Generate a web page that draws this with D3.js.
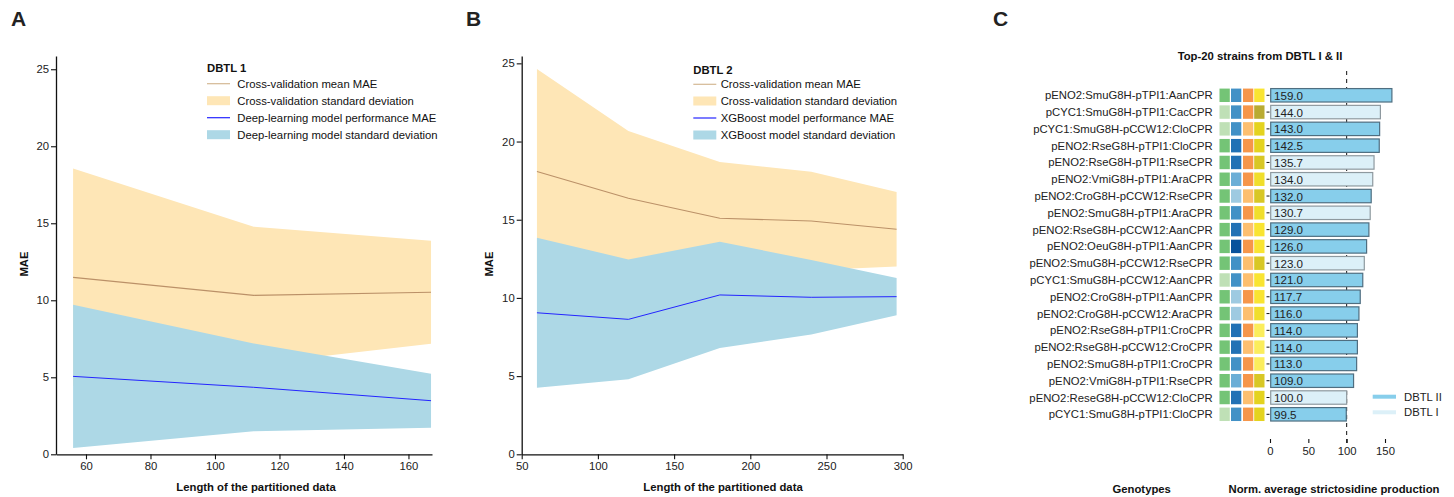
<!DOCTYPE html>
<html>
<head>
<meta charset="utf-8">
<script src="https://cdn.jsdelivr.net/npm/d3@7"></script>
<style>
  html, body { margin: 0; padding: 0; background: #fff; }
  svg { display: block; font-family: "Liberation Sans", Arial, sans-serif; }
  .tick text { font-size: 11.3px; fill: #222; }
</style>
</head>
<body>
<svg id="chart" width="1454" height="497"></svg>
<script>
// ---------------- DATA ----------------
// Panel A (DBTL 1)
const aX = [56, 112, 167];
const aCvMean = [11.49, 10.32, 10.52];
const aCvStd = [7.06, 4.46, 3.35];
const aDlMean = [5.06, 4.35, 3.48];
const aDlStd = [4.65, 2.85, 1.75];
const aXTicks = [60, 80, 100, 120, 140, 160];
const aYTicks = [0, 5, 10, 15, 20, 25];

// Panel B (DBTL 2)
const bX = [60, 120, 180, 240, 296];
const bCvMean = [18.09, 16.37, 15.09, 14.92, 14.39];
const bCvStd = [6.55, 4.30, 3.60, 3.15, 2.38];
const bXgMean = [9.05, 8.63, 10.19, 10.04, 10.08];
const bXgStd = [4.80, 3.83, 3.40, 2.38, 1.19];
const bXTicks = [50, 100, 150, 200, 250, 300];
const bYTicks = [0, 5, 10, 15, 20, 25];

// Panel C (Top-20 strains)
const strains = [
  "pENO2:SmuG8H-pTPI1:AanCPR", "pCYC1:SmuG8H-pTPI1:CacCPR", "pCYC1:SmuG8H-pCCW12:CloCPR",
  "pENO2:RseG8H-pTPI1:CloCPR", "pENO2:RseG8H-pTPI1:RseCPR", "pENO2:VmiG8H-pTPI1:AraCPR",
  "pENO2:CroG8H-pCCW12:RseCPR", "pENO2:SmuG8H-pTPI1:AraCPR", "pENO2:RseG8H-pCCW12:AanCPR",
  "pENO2:OeuG8H-pTPI1:AanCPR", "pENO2:SmuG8H-pCCW12:RseCPR", "pCYC1:SmuG8H-pCCW12:AanCPR",
  "pENO2:CroG8H-pTPI1:AanCPR", "pENO2:CroG8H-pCCW12:AraCPR", "pENO2:RseG8H-pTPI1:CroCPR",
  "pENO2:RseG8H-pCCW12:CroCPR", "pENO2:SmuG8H-pTPI1:CroCPR", "pENO2:VmiG8H-pTPI1:RseCPR",
  "pENO2:ReseG8H-pCCW12:CloCPR", "pCYC1:SmuG8H-pTPI1:CloCPR"
];
const production = [159.0, 144.0, 143.0, 142.5, 135.7, 134.0, 132.0, 130.7, 129.0, 126.0,
                    123.0, 121.0, 117.7, 116.0, 114.0, 114.0, 113.0, 109.0, 100.0, 99.5];
const cycle = ["II", "I", "II", "II", "I", "I", "II", "I", "II", "II",
               "I", "II", "II", "II", "II", "II", "II", "II", "I", "II"];
const cXTicks = [0, 50, 100, 150];

// ---------------- STYLE ----------------
const FS = "11.3px";
const cvFill = "#fee6b6", cvLine = "#bb9168", cvLegLine = "#d4b894";
const mlFill = "#add8e6", mlLine = "#2424ff";
const promoterColor = { pENO2: "#74c476", pCYC1: "#bfe0b6" };
const g8hColor = { Smu: "#4291c6", Rse: "#2171b5", Rese: "#2171b5", Vmi: "#6baed6", Cro: "#9ecae1", Oeu: "#08519c" };
const cprPromColor = { pTPI1: "#f6964a", pCCW12: "#fdbf6f" };
const cprColor = { Aan: "#f9e432", Cac: "#b9ab32", Clo: "#e4d31f", Rse: "#d8c725", Ara: "#f0de2c", Cro: "#fbed5c" };

const svg = d3.select("#chart");

function panelLetter(t, x) {
  svg.append("text").attr("x", x).attr("y", 26).text(t)
    .style("font-size", "21px").style("font-weight", "bold").attr("fill", "#222");
}

function linePanel(cfg) {
  const x = d3.scaleLinear().domain(cfg.xDomain).range(cfg.xRange);
  const y = d3.scaleLinear().domain(cfg.yDomain).range([454.3, 56]);
  const g = svg.append("g");
  const idx = d3.range(cfg.xs.length);
  const area = (m, s) => d3.area().x(i => x(cfg.xs[i])).y0(i => y(m[i] - s[i])).y1(i => y(m[i] + s[i]));
  const line = m => d3.line().x(i => x(cfg.xs[i])).y(i => y(m[i]));
  g.append("path").attr("d", area(cfg.cvMean, cfg.cvStd)(idx)).attr("fill", cvFill);
  g.append("path").attr("d", area(cfg.mlMean, cfg.mlStd)(idx)).attr("fill", mlFill);
  g.append("path").attr("d", line(cfg.cvMean)(idx)).attr("fill", "none").attr("stroke", cvLine).attr("stroke-width", 1.1);
  g.append("path").attr("d", line(cfg.mlMean)(idx)).attr("fill", "none").attr("stroke", mlLine).attr("stroke-width", 1);

  const ya = g.append("g").attr("transform", `translate(${cfg.xRange[0]},0)`)
    .call(d3.axisLeft(y).tickValues(cfg.yTicks).tickSize(5).tickPadding(2).tickSizeOuter(0));
  const xa = g.append("g").attr("transform", `translate(0,454.3)`)
    .call(d3.axisBottom(x).tickValues(cfg.xTicks).tickSize(5).tickPadding(3).tickSizeOuter(0));
  [ya, xa].forEach(a => {
    a.select(".domain").attr("stroke", "#111").attr("stroke-width", 1.3);
    a.selectAll(".tick line").attr("stroke", "#111").attr("stroke-width", 1.1);
  });

  g.append("text").attr("transform", `translate(${cfg.yLabelX},264) rotate(-90)`)
    .attr("text-anchor", "middle").attr("dominant-baseline", "central")
    .style("font-size", FS).style("font-weight", "bold").attr("fill", "#111").text("MAE");
  g.append("text").attr("x", cfg.xLabelX).attr("y", 491).attr("text-anchor", "middle")
    .style("font-size", FS).style("font-weight", "bold").attr("fill", "#111")
    .text("Length of the partitioned data");

  // legend
  const L = cfg.legend;
  g.append("text").attr("x", L.x).attr("y", L.titleY).attr("dominant-baseline", "central")
    .style("font-size", FS).style("font-weight", "bold").attr("fill", "#111").text(L.title);
  L.items.forEach((it, i) => {
    const cy = L.rowsY[i];
    if (it.type === "line") {
      g.append("line").attr("x1", L.x).attr("x2", L.x + 23).attr("y1", cy).attr("y2", cy)
        .attr("stroke", it.color).attr("stroke-width", 1.2);
    } else {
      g.append("rect").attr("x", L.x).attr("y", cy - 4.5).attr("width", 23).attr("height", 9).attr("fill", it.color);
    }
    g.append("text").attr("x", L.textX).attr("y", cy).attr("dominant-baseline", "central")
      .style("font-size", FS).attr("fill", "#111").text(it.label);
  });
}

panelLetter("A", 11);
linePanel({
  xs: aX, cvMean: aCvMean, cvStd: aCvStd, mlMean: aDlMean, mlStd: aDlStd,
  xDomain: [50.7, 167.3], xRange: [56, 432], yDomain: [0, 25.86],
  xTicks: aXTicks, yTicks: aYTicks, yLabelX: 24, xLabelX: 256,
  legend: {
    x: 207, textX: 237.3, title: "DBTL 1", titleY: 68, rowsY: [83.7, 100.7, 117.7, 134.7],
    items: [
      { type: "line", color: cvLegLine, label: "Cross-validation mean MAE" },
      { type: "rect", color: cvFill, label: "Cross-validation standard deviation" },
      { type: "line", color: mlLine, label: "Deep-learning model performance MAE" },
      { type: "rect", color: mlFill, label: "Deep-learning model standard deviation" }
    ]
  }
});

panelLetter("B", 466);
linePanel({
  xs: bX, cvMean: bCvMean, cvStd: bCvStd, mlMean: bXgMean, mlStd: bXgStd,
  xDomain: [50, 300], xRange: [521.7, 902.7], yDomain: [0, 25.47],
  xTicks: bXTicks, yTicks: bYTicks, yLabelX: 489, xLabelX: 723,
  legend: {
    x: 693.3, textX: 720.7, title: "DBTL 2", titleY: 70, rowsY: [84.3, 101, 118, 135],
    items: [
      { type: "line", color: cvLegLine, label: "Cross-validation mean MAE" },
      { type: "rect", color: cvFill, label: "Cross-validation standard deviation" },
      { type: "line", color: mlLine, label: "XGBoost model performance MAE" },
      { type: "rect", color: mlFill, label: "XGBoost model standard deviation" }
    ]
  }
});

// ---------------- PANEL C ----------------
panelLetter("C", 993);
(function () {
  const g = svg.append("g");
  const x = d3.scaleLinear().domain([0, 150]).range([1270, 1385]);
  const y = d3.scaleBand().domain(strains).range([86.9, 422.7]).paddingInner(0.2).paddingOuter(0.1);
  const bw = y.bandwidth();

  g.append("text").attr("x", 1260).attr("y", 60).attr("text-anchor", "middle")
    .style("font-size", FS).style("font-weight", "bold").attr("fill", "#111")
    .text("Top-20 strains from DBTL I & II");

  // genotype labels
  g.selectAll("text.lab").data(strains).join("text").attr("class", "lab")
    .attr("x", 1212.7).attr("y", d => y(d) + bw / 2).attr("text-anchor", "end")
    .attr("dominant-baseline", "central").style("font-size", FS).attr("fill", "#222").text(d => d);

  // genotype squares
  const parts = strains.map(s => {
    const m = s.match(/^(p\w+?):(\w+?)G8H-(p\w+?):(\w+?)CPR$/);
    return [promoterColor[m[1]], g8hColor[m[2]], cprPromColor[m[3]], cprColor[m[4]]];
  });
  const colX = [1219.5, 1231, 1243, 1254.2];
  strains.forEach((s, i) => {
    parts[i].forEach((c, j) => {
      g.append("rect").attr("x", colX[j]).attr("y", y(s)).attr("width", 10.3).attr("height", bw).attr("fill", c);
    });
  });

  // dashed reference line
  g.append("line").attr("x1", x(100)).attr("x2", x(100)).attr("y1", 71).attr("y2", 443)
    .attr("stroke", "#111").attr("stroke-width", 1).attr("stroke-dasharray", "4,4");

  // bars
  g.selectAll("rect.bar").data(strains).join("rect").attr("class", "bar")
    .attr("x", x(0) + 0.7).attr("y", d => y(d)).attr("height", bw)
    .attr("width", (d, i) => x(production[i]) - x(0) - 0.7)
    .attr("fill", (d, i) => cycle[i] === "II" ? "#87ceeb" : "#dcf0f8")
    .attr("stroke", (d, i) => cycle[i] === "II" ? "#4f6e80" : "#8e999f")
    .attr("stroke-width", 1.2);

  g.selectAll("text.val").data(strains).join("text").attr("class", "val")
    .attr("x", 1274).attr("y", d => y(d) + bw / 2 + 4.5)
    .style("font-size", "11.6px").attr("fill", "#222")
    .text((d, i) => production[i].toFixed(1));

  // y ticks (no labels)
  const ya = g.append("g").attr("transform", `translate(${x(0) - 0.5},0)`)
    .call(d3.axisLeft(y).tickSize(3).tickFormat(""));
  ya.select(".domain").remove();
  ya.selectAll(".tick line").attr("stroke", "#111");

  // x axis
  const xa = g.append("g").attr("transform", "translate(0,439)")
    .call(d3.axisBottom(x).tickValues(cXTicks).tickSize(4).tickPadding(4));
  xa.select(".domain").remove();
  xa.selectAll(".tick line").attr("stroke", "#111").attr("stroke-width", 1.1);

  g.append("text").attr("x", 1334).attr("y", 493).attr("text-anchor", "middle")
    .style("font-size", FS).style("font-weight", "bold").attr("fill", "#111")
    .text("Norm. average strictosidine production");
  g.append("text").attr("x", 1141.7).attr("y", 493).attr("text-anchor", "middle")
    .style("font-size", FS).style("font-weight", "bold").attr("fill", "#111").text("Genotypes");

  // legend
  [["DBTL II", "#87ceeb", 396.7], ["DBTL I", "#dcf0f8", 412.3]].forEach(([lab, col, cy]) => {
    g.append("line").attr("x1", 1372.7).attr("x2", 1396).attr("y1", cy).attr("y2", cy)
      .attr("stroke", col).attr("stroke-width", 4);
    g.append("text").attr("x", 1404).attr("y", cy).attr("dominant-baseline", "central")
      .style("font-size", FS).attr("fill", "#222").text(lab);
  });
})();
</script>
</body>
</html>
